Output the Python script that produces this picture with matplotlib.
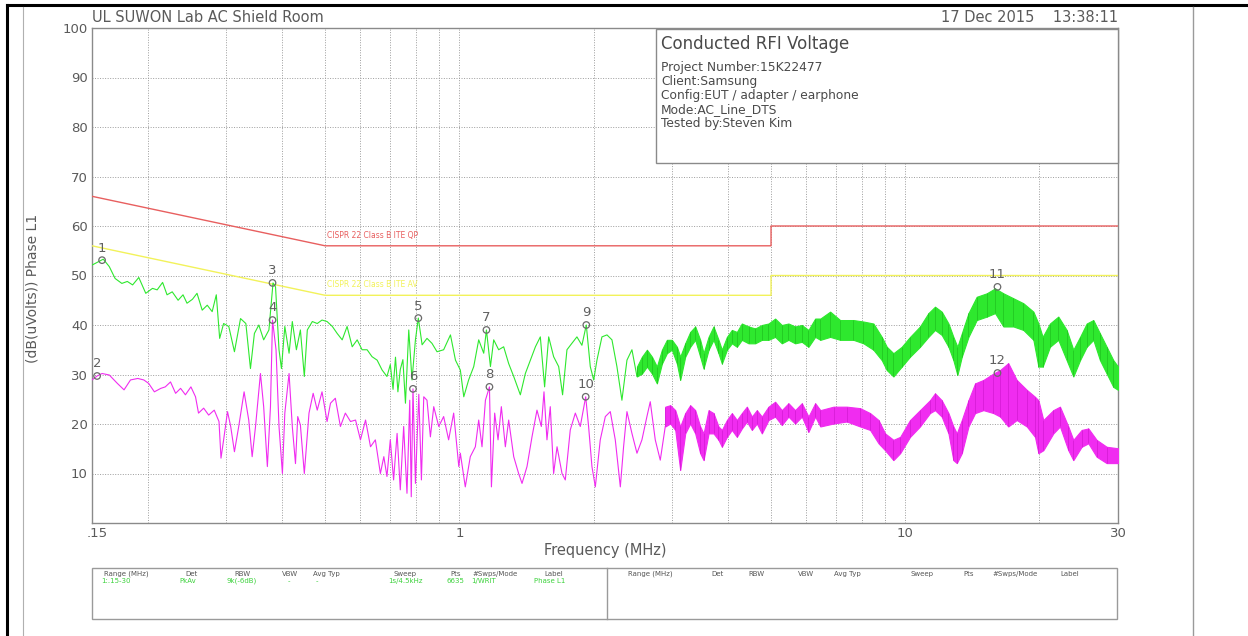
import matplotlib
matplotlib.use('Agg')
import matplotlib.pyplot as plt
import matplotlib.transforms as mtransforms
from matplotlib.lines import Line2D
from matplotlib.patches import Rectangle
from matplotlib.ticker import FixedLocator, NullFormatter

# --- data -------------------------------------------------------------------
# peak trace (green), line part 0.15 - 2.5 MHz
green_f = [0.150, 0.159, 0.164, 0.169, 0.175, 0.180, 0.185, 0.191, 0.198, 0.205,
           0.210, 0.216, 0.221, 0.227, 0.234, 0.240, 0.245, 0.252, 0.258, 0.265,
           0.272, 0.279, 0.285, 0.290, 0.296, 0.304, 0.313, 0.323, 0.332, 0.340,
           0.347, 0.355, 0.364, 0.374, 0.382, 0.387, 0.394, 0.399, 0.406, 0.415,
           0.422, 0.431, 0.440, 0.449, 0.456, 0.468, 0.480, 0.492, 0.505, 0.519,
           0.532, 0.546, 0.560, 0.575, 0.590, 0.605, 0.621, 0.637, 0.654, 0.671,
           0.688, 0.700, 0.710, 0.719, 0.728, 0.737, 0.747, 0.757, 0.770, 0.783,
           0.797, 0.809, 0.825, 0.846, 0.868, 0.891, 0.922, 0.955, 0.980, 1.005,
           1.023, 1.049, 1.077, 1.105, 1.134, 1.150, 1.174, 1.194, 1.225, 1.257,
           1.290, 1.324, 1.370, 1.406, 1.443, 1.481, 1.519, 1.553, 1.586, 1.627,
           1.670, 1.704, 1.743, 1.788, 1.835, 1.883, 1.926, 1.966, 2.001, 2.035,
           2.088, 2.143, 2.199, 2.256, 2.315, 2.376, 2.438, 2.502]
green_db = [52.1, 53.3, 51.8, 49.4, 48.4, 48.8, 48.1, 49.6, 46.4, 47.4,
            47.1, 48.6, 46.1, 46.7, 45.0, 46.1, 44.4, 45.2, 46.4, 43.0,
            44.0, 42.7, 46.1, 37.3, 40.3, 39.7, 34.6, 41.3, 40.3, 31.2,
            38.3, 40.0, 37.0, 39.0, 48.5, 47.7, 35.0, 31.2, 39.7, 34.3,
            40.7, 35.0, 39.0, 29.6, 39.0, 40.7, 40.3, 41.0, 40.7, 39.7,
            38.3, 37.0, 39.7, 35.6, 37.0, 35.0, 35.0, 33.6, 32.9, 30.9,
            29.6, 32.0, 27.0, 33.5, 26.5, 31.0, 33.0, 24.2, 39.0, 28.9,
            37.0, 41.4, 36.0, 37.3, 36.3, 34.6, 35.0, 38.0, 32.9, 30.9,
            25.5, 28.9, 31.6, 37.0, 34.3, 39.0, 31.6, 37.0, 35.0, 35.6,
            32.2, 29.6, 25.9, 30.2, 32.9, 35.6, 37.6, 27.5, 37.6, 33.6,
            31.6, 25.9, 35.0, 36.3, 37.6, 35.9, 40.0, 31.6, 28.9, 32.9,
            37.6, 38.0, 37.0, 31.6, 24.8, 32.9, 35.0, 29.6]

# peak trace, dense part 2.5 - 30 MHz (lower / upper edge of the band)
green_band_f = [2.502, 2.567, 2.634, 2.703, 2.773, 2.846, 2.920, 2.996, 3.075, 3.128,
                3.21, 3.294, 3.38, 3.468, 3.529, 3.621, 3.715, 3.812, 3.879, 3.981,
                4.084, 4.191, 4.300, 4.451, 4.607, 4.768, 4.935, 5.107, 5.286, 5.471,
                5.662, 5.861, 6.066, 6.28, 6.45, 6.785, 7.143, 7.652, 8.058, 8.483,
                8.857, 9.089, 9.406, 9.82, 10.25, 10.79, 11.27, 11.66, 12.07, 12.50,
                12.82, 13.09, 13.39, 13.86, 14.46, 15.23, 15.90, 16.6, 17.48, 18.40,
                19.38, 19.89, 20.33, 21.11, 22.04, 23.01, 23.82, 24.66, 25.52, 26.41,
                27.33, 28.29, 29.28, 30.0]
green_band_hi = [31.6, 33.6, 35.0, 33.6, 31.6, 35.0, 37.0, 37.0, 35.6, 33.6,
                 36.3, 38.6, 39.7, 37.0, 34.3, 37.6, 39.7, 37.0, 35.0, 37.6,
                 39.0, 38.6, 40.3, 39.7, 39.3, 40.0, 40.3, 41.3, 40.0, 40.3,
                 39.7, 40.0, 39.0, 41.3, 41.3, 42.7, 41.0, 41.0, 40.7, 40.3,
                 37.6, 35.6, 34.3, 35.6, 37.6, 39.7, 42.4, 43.7, 42.7, 40.3,
                 37.6, 35.6, 38.3, 42.4, 45.7, 46.4, 47.4, 46.4, 45.4, 44.4,
                 42.7, 40.3, 37.6, 40.3, 41.7, 39.0, 35.0, 37.6, 40.3, 41.0,
                 38.3, 35.6, 32.9, 31.6]
green_band_lo = [29.6, 30.2, 31.6, 30.2, 28.2, 32.2, 34.3, 35.0, 32.2, 28.9,
                 33.6, 35.6, 37.0, 33.6, 31.2, 35.0, 37.0, 34.3, 32.2, 35.0,
                 36.3, 35.6, 37.0, 36.3, 36.3, 37.0, 37.0, 37.6, 36.3, 37.0,
                 36.3, 36.6, 35.6, 37.6, 37.0, 37.6, 37.0, 37.0, 36.3, 35.0,
                 32.9, 30.9, 29.6, 31.6, 33.6, 35.6, 37.6, 39.0, 38.0, 35.6,
                 32.9, 29.9, 33.6, 37.6, 41.0, 41.7, 42.4, 39.7, 39.7, 39.0,
                 37.0, 31.6, 31.6, 35.6, 37.0, 32.9, 29.6, 32.9, 35.6, 37.0,
                 32.9, 30.2, 27.5, 26.9]

# average trace (magenta), line part 0.15 - 2.9 MHz
mag_f = [0.150, 0.154, 0.158, 0.164, 0.171, 0.177, 0.183, 0.190, 0.196, 0.201,
         0.207, 0.214, 0.219, 0.225, 0.231, 0.237, 0.243, 0.250, 0.256, 0.260,
         0.267, 0.274, 0.282, 0.289, 0.292, 0.296, 0.302, 0.307, 0.313, 0.320,
         0.329, 0.337, 0.343, 0.349, 0.358, 0.364, 0.371, 0.377, 0.381, 0.388,
         0.394, 0.401, 0.406, 0.415, 0.422, 0.429, 0.434, 0.440, 0.449, 0.460,
         0.470, 0.480, 0.492, 0.505, 0.514, 0.527, 0.541, 0.555, 0.570, 0.585,
         0.600, 0.616, 0.632, 0.648, 0.665, 0.677, 0.688, 0.700, 0.712, 0.725,
         0.737, 0.750, 0.763, 0.774, 0.780, 0.787, 0.797, 0.811, 0.822, 0.832,
         0.846, 0.861, 0.876, 0.899, 0.922, 0.946, 0.971, 0.997, 1.005, 1.031,
         1.058, 1.086, 1.105, 1.124, 1.144, 1.168, 1.180, 1.200, 1.221, 1.242,
         1.268, 1.290, 1.324, 1.358, 1.382, 1.418, 1.455, 1.493, 1.527, 1.548,
         1.572, 1.599, 1.627, 1.656, 1.699, 1.728, 1.773, 1.820, 1.867, 1.920,
         1.949, 1.983, 2.018, 2.070, 2.125, 2.180, 2.237, 2.296, 2.335, 2.376,
         2.438, 2.502, 2.567, 2.634, 2.680, 2.750, 2.822, 2.896]
mag_db = [28.9, 29.7, 30.2, 29.9, 28.2, 26.9, 28.9, 29.2, 28.9, 28.2,
          26.5, 27.2, 27.5, 28.5, 26.2, 27.2, 25.9, 27.5, 25.5, 22.2,
          23.2, 21.8, 22.8, 20.5, 13.1, 16.8, 22.5, 19.5, 14.4, 19.5,
          26.5, 20.8, 13.4, 19.5, 30.2, 23.5, 11.4, 23.5, 41.0, 35.0,
          19.5, 10.0, 22.2, 30.2, 19.5, 12.0, 21.5, 19.8, 10.0, 22.2,
          26.2, 22.8, 26.5, 20.5, 24.2, 25.2, 19.5, 22.2, 20.5, 20.8,
          16.8, 20.8, 15.4, 16.8, 10.0, 13.4, 9.4, 16.8, 8.7, 18.1,
          6.7, 19.5, 6.0, 24.8, 5.3, 27.1, 8.0, 26.0, 8.7, 25.5,
          24.8, 17.4, 23.5, 19.5, 21.5, 16.8, 22.2, 11.4, 14.1, 7.3,
          13.4, 15.4, 20.8, 15.4, 24.8, 27.5, 7.3, 22.2, 16.8, 23.5,
          15.4, 20.8, 13.4, 10.0, 8.0, 11.4, 17.4, 22.8, 19.5, 26.5,
          16.8, 23.5, 10.0, 15.4, 10.0, 8.7, 18.8, 22.2, 19.5, 25.5,
          19.5, 11.4, 7.3, 16.8, 21.5, 22.5, 16.8, 7.3, 15.4, 22.5,
          18.1, 14.1, 16.8, 21.5, 24.5, 16.8, 12.7, 19.5]

# average trace, dense part 2.9 - 30 MHz
mag_band_f = [2.896, 2.971, 3.049, 3.128, 3.21, 3.294, 3.38, 3.468, 3.529, 3.621,
              3.715, 3.812, 3.879, 3.981, 4.084, 4.191, 4.300, 4.413, 4.528, 4.646,
              4.768, 4.935, 5.107, 5.286, 5.471, 5.662, 5.861, 6.066, 6.28, 6.45,
              6.904, 7.393, 7.92, 8.34, 8.71, 9.01, 9.406, 9.74, 10.25, 10.79,
              11.36, 11.66, 12.07, 12.50, 12.82, 13.05, 13.39, 13.86, 14.34, 14.97,
              15.77, 16.32, 17.02, 17.78, 18.73, 19.54, 19.89, 20.40, 21.48, 22.23,
              23.21, 23.82, 24.86, 25.74, 26.86, 28.29, 30.0]
mag_band_hi = [23.5, 23.8, 22.8, 19.5, 22.2, 23.8, 22.8, 19.5, 18.1, 22.8,
               22.2, 19.5, 18.8, 20.8, 22.2, 20.8, 22.2, 23.5, 21.5, 22.8,
               21.5, 23.5, 24.5, 22.8, 24.2, 22.8, 24.2, 21.5, 24.2, 22.8,
               23.5, 23.5, 23.2, 22.2, 20.8, 18.1, 16.8, 17.4, 20.8, 22.8,
               24.8, 26.2, 24.8, 22.2, 19.5, 18.1, 20.8, 24.8, 28.2, 28.9,
               30.2, 30.9, 32.3, 28.9, 26.9, 25.5, 24.8, 20.8, 22.8, 23.5,
               19.5, 16.8, 18.8, 19.1, 16.8, 15.4, 15.1]
mag_band_lo = [19.5, 20.1, 18.8, 10.7, 18.1, 20.1, 18.1, 14.1, 12.7, 18.1,
               18.1, 16.8, 15.4, 17.4, 18.8, 17.4, 19.1, 20.5, 18.8, 20.1,
               18.1, 20.8, 21.5, 19.8, 21.5, 20.1, 21.5, 18.4, 21.5, 19.5,
               20.1, 20.5, 19.5, 18.8, 16.1, 14.7, 12.7, 14.1, 17.4, 19.5,
               22.2, 22.8, 21.5, 18.1, 12.7, 12.1, 14.1, 19.5, 22.2, 22.8,
               22.2, 21.5, 19.5, 20.8, 19.5, 17.4, 14.1, 14.7, 18.1, 19.5,
               14.7, 12.7, 15.4, 16.1, 13.4, 12.1, 12.1]

# limit lines
qp_f = [0.15, 0.5, 5, 5, 30]
qp_db = [66, 56, 56, 60, 60]
av_f = [0.15, 0.5, 5, 5, 30]
av_db = [56, 46, 46, 50, 50]

# markers
mk_id = ['1', '2', '3', '4', '5', '6', '7', '8', '9', '10', '11', '12']
mk_f = [0.158, 0.154, 0.381, 0.381, 0.809, 0.787, 1.150, 1.168, 1.926, 1.920, 16.1, 16.1]
mk_db = [53.1, 29.7, 48.5, 41.0, 41.4, 27.1, 39.0, 27.5, 40.0, 25.5, 47.7, 30.3]

info_lines = ['Project Number:15K22477', 'Client:Samsung',
              'Config:EUT / adapter / earphone', 'Mode:AC_Line_DTS',
              'Tested by:Steven Kim']

tbl_head = ['Range (MHz)', 'Det', 'RBW', 'VBW', 'Avg Typ', 'Sweep', 'Pts', '#Swps/Mode', 'Label']
tbl_vals = ['1:.15-30', 'PkAv', '9k(-6dB)', '-', '-', '1s/4.5kHz', '6635', '1/WRIT', 'Phase L1']

GREEN = '#2ee82e'
GREEN_DK = '#22c822'
MAGENTA = '#f02cf0'
MAGENTA_DK = '#d81cd8'
RED = '#e85f5f'
YELLOW = '#f2f25a'
GRID = '#9c9c9c'
TXT = '#5a5a5a'

W, H = 1248, 636
fig = plt.figure(figsize=(W / 100, H / 100), dpi=100)


def fx(x):
    return x / W


def fy(y):
    return 1 - y / H


ax = fig.add_axes([fx(92), fy(523), fx(1118) - fx(92), fy(28) - fy(523)])
ax.set_xscale('log')
ax.set_xlim(0.15, 30)
ax.set_ylim(0, 100)

ax.set_xticks([0.15, 1, 10, 30])
ax.set_xticklabels(['.15', '1', '10', '30'])
ax.xaxis.set_minor_locator(FixedLocator([0.2, 0.3, 0.4, 0.5, 0.6, 0.7, 0.8, 0.9,
                                         2, 3, 4, 5, 6, 7, 8, 9, 20]))
ax.xaxis.set_minor_formatter(NullFormatter())
ax.set_yticks(range(10, 101, 10))
ax.set_yticklabels([str(v) for v in range(10, 101, 10)])
ax.tick_params(which='both', length=0, labelsize=9.5, labelcolor=TXT, pad=3)
# the .15 label sits a little right of the axis corner
first = ax.get_xticklabels()[0]
first.set_transform(first.get_transform() + mtransforms.ScaledTranslation(4 / 72, 0, fig.dpi_scale_trans))
ax.grid(True, which='both', color=GRID, linestyle=(0, (1, 1.6)), linewidth=0.7)
for s in ax.spines.values():
    s.set_color('#8a8a8a')
    s.set_linewidth(1.0)

ax.plot(qp_f, qp_db, color=RED, lw=1.0, zorder=3)
ax.plot(av_f, av_db, color=YELLOW, lw=1.0, zorder=3)
ax.text(0.505, 57.2, 'CISPR 22 Class B ITE QP', color=RED, fontsize=5.5, va='bottom', zorder=4)
ax.text(0.505, 47.2, 'CISPR 22 Class B ITE AV', color=YELLOW, fontsize=5.5, va='bottom', zorder=4)

ax.plot(green_f, green_db, color=GREEN, lw=0.8, zorder=5)
ax.fill_between(green_band_f, green_band_lo, green_band_hi, color=GREEN, lw=0.8, zorder=5)
ax.vlines(green_band_f, green_band_lo, green_band_hi, color=GREEN_DK, lw=0.6, zorder=5)
ax.plot(mag_f, mag_db, color=MAGENTA, lw=0.8, zorder=4)
ax.fill_between(mag_band_f, mag_band_lo, mag_band_hi, color=MAGENTA, lw=0.8, zorder=4)
ax.vlines(mag_band_f, mag_band_lo, mag_band_hi, color=MAGENTA_DK, lw=0.6, zorder=4)

ax.scatter(mk_f, mk_db, s=22, facecolors='none', edgecolors='#6a6a6a', linewidths=0.9, zorder=7)
for t, f, v in zip(mk_id, mk_f, mk_db):
    ax.annotate(t, (f, v), xytext=(0, 4), textcoords='offset points', ha='center',
                va='bottom', fontsize=9.5, color='#5f5f5f', zorder=8)

# header texts
fig.text(fx(92), fy(18), 'UL SUWON Lab AC Shield Room', fontsize=10.5, color=TXT, va='center')
fig.text(fx(1118), fy(18), '17 Dec 2015    13:38:11', fontsize=10.5, color=TXT, va='center', ha='right')
fig.text(fx(33), fy(288), '(dB(uVolts)) Phase L1', rotation=90, fontsize=10, color=TXT,
         ha='center', va='center')
fig.text(fx(605), fy(551), 'Frequency (MHz)', fontsize=10.5, color=TXT, ha='center', va='center')

# info box in the upper right of the plot
fig.add_artist(Rectangle((fx(656), fy(163)), fx(1118) - fx(656), fy(29) - fy(163),
                         facecolor='white', edgecolor='#8a8a8a', lw=1.0, zorder=10))
fig.text(fx(661), fy(44), 'Conducted RFI Voltage', fontsize=12, color='#4a4a4a', va='center', zorder=11)
for i, line in enumerate(info_lines):
    fig.text(fx(661), fy(68 + 14 * i), line, fontsize=8.8, color='#4a4a4a', va='center', zorder=11)

# settings table at the bottom
fig.add_artist(Rectangle((fx(92), fy(619)), fx(1117) - fx(92), fy(568) - fy(619),
                         facecolor='none', edgecolor='#9a9a9a', lw=1.0))
fig.add_artist(Line2D([fx(607), fx(607)], [fy(568), fy(619)], color='#9a9a9a', lw=1.0))
left_cols = [126, 192, 242, 290, 326, 405, 456, 495, 554]
val_cols = [116, 188, 242, 289, 317, 405, 455, 484, 550]
right_cols = [650, 717, 756, 806, 847, 922, 969, 1015, 1070]
for h, x in zip(tbl_head, left_cols):
    fig.text(fx(x), fy(574), h, fontsize=5, color='#555555', ha='center', va='center')
for v, x in zip(tbl_vals, val_cols):
    fig.text(fx(x), fy(581), v, fontsize=5, color='#3cd23c', ha='center', va='center')
for h, x in zip(tbl_head, right_cols):
    fig.text(fx(x), fy(574), h, fontsize=5, color='#555555', ha='center', va='center')

# page frame
fig.add_artist(Line2D([fx(7), fx(1248)], [fy(5), fy(5)], color='black', lw=2.2))
fig.add_artist(Line2D([fx(7), fx(7)], [fy(5), fy(636)], color='black', lw=2.2))
fig.add_artist(Line2D([fx(23), fx(23)], [fy(7), fy(636)], color='#b0b0b0', lw=0.8))
fig.add_artist(Line2D([fx(1193), fx(1193)], [fy(7), fy(636)], color='#9a9a9a', lw=1.0))

fig.savefig('out.png', dpi=100)
